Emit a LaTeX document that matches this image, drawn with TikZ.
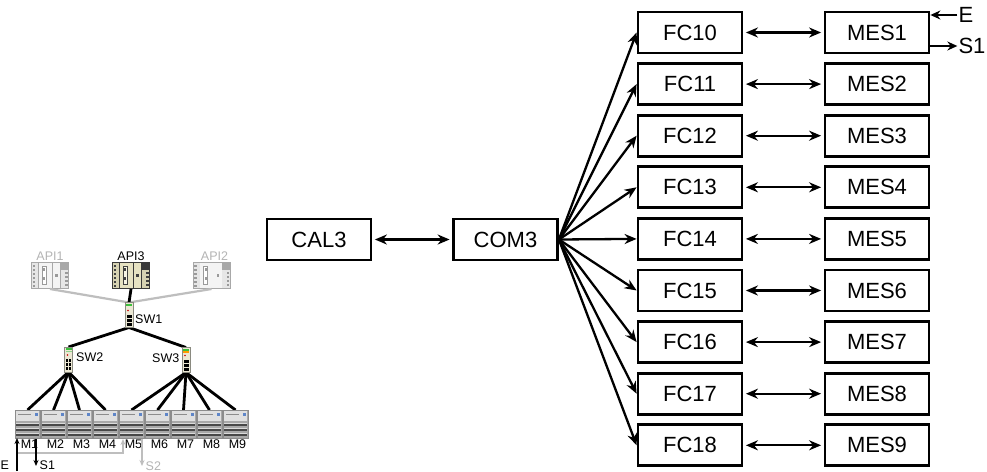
\documentclass[tikz,border=0pt]{standalone}
\usepackage{fontspec}
\setmainfont{Liberation Sans}
\usetikzlibrary{arrows.meta}

% palette
\definecolor{lightlbl}{HTML}{B4B4B4}
\definecolor{netgray}{HTML}{BEBEBE}
\definecolor{mbody}{HTML}{A8A8A8}
\definecolor{medge}{HTML}{8C8C8C}
\definecolor{mtop}{HTML}{E0E0E0}
\definecolor{mblue}{HTML}{5F86C8}
\definecolor{mlight}{HTML}{DADADA}
\definecolor{mdark}{HTML}{484848}
\definecolor{swbody}{HTML}{ECE8D4}
\definecolor{swedge}{HTML}{8A8A80}
\definecolor{swgreen}{HTML}{3CC03C}
% rack colours, full and faded
\definecolor{fullframe}{HTML}{3A3A3A}
\definecolor{fullmod}{HTML}{E6E2C2}
\definecolor{fullmodb}{HTML}{D6D2B2}
\definecolor{fulldot}{HTML}{404040}
\definecolor{fullinner}{HTML}{F6F4E4}
\definecolor{fadedframe}{HTML}{A8A8A8}
\definecolor{fadedmod}{HTML}{F4F4F4}
\definecolor{fadedmodb}{HTML}{E6E6E6}
\definecolor{fadeddot}{HTML}{9A9A9A}
\definecolor{fadedinner}{HTML}{FFFFFF}

\tikzset{
  blk/.style={draw, line width=2.8pt, minimum width=104pt, minimum height=41pt,
    inner sep=0pt, font=\fontsize{22}{26}\selectfont},
  link/.style={line width=2.3pt, -{Stealth[length=12pt,width=10pt]}},
  dlink/.style={line width=2.3pt, {Stealth[length=12pt,width=10pt]}-{Stealth[length=12pt,width=10pt]},
    shorten <=2.5pt, shorten >=2.5pt},
  sidearrow/.style={line width=1.5pt, -{Stealth[length=10pt,width=9pt]}},
  sidelbl/.style={inner sep=1pt, font=\fontsize{22}{26}\selectfont},
  iconbox/.style={draw=none, inner sep=0pt, outer sep=0pt},
  netline/.style={line width=2.8pt, black},
  netfaint/.style={line width=2.2pt, netgray},
  smalllbl/.style={inner sep=0.5pt, font=\fontsize{12.5}{14}\selectfont},
  ioline/.style={line width=1.3pt, -{Stealth[length=6pt,width=5pt]}},
}

% machine icon: #1 name, #2 centre
\newcommand\machineicon[2]{%
  \node[iconbox, minimum width=25pt, minimum height=28pt] (#1) at (#2) {};
  \begin{scope}[shift={(#1.north west)}]
    \filldraw[fill=mbody, draw=medge, line width=0.5pt] (0,0) rectangle (25,28);
    \fill[mtop] (1,1) rectangle (24,11);
    \draw[medge, line width=0.4pt] (3,4) -- (16,4);
    \fill[mblue] (19.5,2.5) rectangle (23,5.5);
    \foreach \s in {13,18,23}{
      \fill[mlight] (1,\s) rectangle (24,\s+1);
      \fill[mdark] (1,\s+1) rectangle (24,\s+3);
    }
  \end{scope}}

% switch icon: #1 name, #2 centre, #3 colour of the strip under the cap
\newcommand\switchicon[3]{%
  \node[iconbox, minimum width=8pt, minimum height=25pt] (#1) at (#2) {};
  \begin{scope}[shift={(#1.north west)}]
    \filldraw[fill=swbody, draw=swedge, line width=0.5pt] (0,0) rectangle (8,25);
    \fill[swgreen] (1,1) rectangle (7,3);
    \fill[#3] (1,3.5) rectangle (7,5);
    \fill[red!80!black] (3,8) circle (0.9);
    \foreach \r in {12,16,20}{
      \fill[black] (1.5,\r) rectangle (3.7,\r+3);
      \fill[black] (4.3,\r) rectangle (6.5,\r+3);
    }
  \end{scope}}

% rack icon: #1 name, #2 centre, #3 colour set (full or faded)
\newcommand\plcicon[3]{%
  \node[iconbox, minimum width=38pt, minimum height=27pt] (#1) at (#2) {};
  \begin{scope}[shift={(#1.north west)}]
    \fill[#3frame] (0,0) rectangle (38,27);
    \fill[#3modb] (1,1) rectangle (7,26);
    \foreach \r in {3,7,11,15,19,23}{
      \fill[#3dot] (1.5,\r) rectangle (4,\r+2);
    }
    \fill[#3mod] (7.6,1) rectangle (21,26);
    \filldraw[fill=#3inner, draw=#3dot, line width=0.4pt] (11,4) rectangle (15,22);
    \fill[#3dot] (12,6) rectangle (14,9);
    \fill[#3dot] (12,15) rectangle (14,18);
    \fill[#3mod] (21.6,1) rectangle (29,26);
    \fill[#3dot] (24,12) rectangle (26.5,14.5);
    \fill[#3frame] (29.6,1) rectangle (37,8);
    \fill[#3modb] (29.6,8) rectangle (37,26);
    \foreach \r in {10,14,18,22}{
      \fill[#3dot] (34,\r) rectangle (36.5,\r+2);
    }
  \end{scope}}

\begin{document}
\begin{tikzpicture}[x=1pt, y=-1pt]
  \fill[white] (0,0) rectangle (987,471);
  \useasboundingbox (0,0) rectangle (987,471);

  % ---------- plant network ----------
  \plcicon{api1}{50,275.5}{faded}
  \plcicon{api3}{131,275.5}{full}
  \plcicon{api2}{211.5,275.5}{faded}
  \node[smalllbl, text=lightlbl, anchor=south] (lapi1) at ([yshift=1pt]api1.north) {API1};
  \node[smalllbl, anchor=south] (lapi3) at ([yshift=1pt]api3.north) {API3};
  \node[smalllbl, text=lightlbl, anchor=south] (lapi2) at ([xshift=3pt,yshift=1pt]api2.north) {API2};

  % switch and machine placeholders, so that links can be drawn beneath the icons
  \node[iconbox, minimum width=8pt, minimum height=25pt] (sw1) at (129,315) {};
  \node[iconbox, minimum width=8pt, minimum height=25pt] (sw2) at (68.5,359.5) {};
  \node[iconbox, minimum width=8pt, minimum height=25pt] (sw3) at (186,360) {};
  \foreach \i [evaluate=\i as \xx using 27.5+26*(\i-1)] in {1,...,9}{
    \node[iconbox, minimum width=25pt, minimum height=28pt] (m\i) at (\xx,424) {};
  }

  % links
  \draw[netfaint] (api1.south) -- (sw1.north);
  \draw[netfaint] (api2.south) -- (sw1.north);
  \draw[netline] (api3.south) -- (sw1.north);
  \draw[netline] (sw1.south) -- (sw2.north);
  \draw[netline] (sw1.south) -- (sw3.north);
  \foreach \i in {1,...,4} \draw[netline] (sw2.south) -- (m\i.north);
  \foreach \i in {5,...,9} \draw[netline] (sw3.south) -- (m\i.north);

  % icons
  \switchicon{sw1}{129,315}{swbody}
  \switchicon{sw2}{68.5,359.5}{swgreen!60!white}
  \switchicon{sw3}{186,360}{orange!80!yellow}
  \node[smalllbl, anchor=west] (lsw1) at (134.5,319) {SW1};
  \node[smalllbl, anchor=west] (lsw2) at (75.5,357) {SW2};
  \node[smalllbl, anchor=east] (lsw3) at (180,358) {SW3};

  \foreach \i [evaluate=\i as \xx using 27.5+26*(\i-1)] in {1,...,9}{
    \machineicon{m\i}{\xx,424}
    \node[smalllbl, anchor=north] (lm\i) at ([xshift=2pt,yshift=-1.5pt]m\i.south) {M\i};
  }

  % inputs and outputs of the first line
  \node[smalllbl, anchor=base west] (le) at (0,469) {E};
  \coordinate (ebot) at (17,471);
  \coordinate (ejoin) at (17,453);
  \coordinate (gin) at (123,439);
  \draw[ioline, netgray] (ejoin) -| (gin);
  \draw[ioline] (ebot) -- (ebot |- m1.south);
  \node[smalllbl, anchor=base west] (ls1) at (39,469) {S1};
  \draw[ioline] (36,439) -- (36,466);
  \node[smalllbl, text=lightlbl, anchor=base west] (ls2) at (145,470) {S2};
  \draw[ioline, netgray] (142,439) -- (142,466);

  % ---------- functional chain ----------
  \node[blk] (cal3) at (319,239.5) {CAL3};
  \node[blk] (com3) at (505.5,239.5) {COM3};
  \draw[dlink] (cal3.east) -- (com3.west);

  \foreach \i [evaluate=\i as \yy using 32.5+51.6*(\i-1),
               evaluate=\i as \f using int(\i+9)] in {1,...,9}{
    \node[blk] (fc\f) at (690,\yy) {FC\f};
    \node[blk] (mes\i) at (877,\yy) {MES\i};
    \draw[dlink] (fc\f.east) -- (mes\i.west);
    \draw[link] (com3.east) -- (fc\f.west);
  }

  \node[sidelbl] (ein) at (966,15) {E};
  \draw[sidearrow] (ein.west) -- (ein.west -| mes1.east);
  \node[sidelbl] (sout) at (972,46) {S1};
  \draw[sidearrow] (sout.west -| mes1.east) -- (sout.west);
\end{tikzpicture}
\end{document}
